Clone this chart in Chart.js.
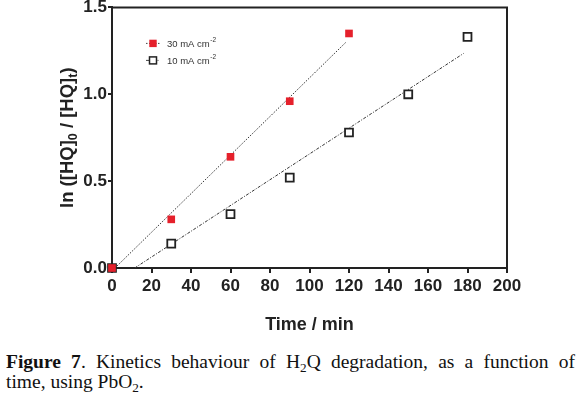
<!DOCTYPE html>
<html><head><meta charset="utf-8">
<script src="https://cdn.jsdelivr.net/npm/chart.js@4/dist/chart.umd.min.js"></script>
<style>
html,body{margin:0;padding:0;background:#fff;width:580px;height:395px;overflow:hidden}
#wrap{position:absolute;left:0;top:0;width:580px;height:336px}
.cap{position:absolute;left:6px;width:569px;font-family:"Liberation Serif","Times New Roman",serif;font-size:19.5px;color:#111;line-height:20px;white-space:nowrap}
.cap sub{font-size:0.68em;vertical-align:-0.28em;line-height:0}
</style></head><body>
<div id="wrap"><canvas id="c" width="580" height="336"></canvas></div>
<div class="cap" style="top:352px;text-align:justify;text-align-last:justify"><b>Figure 7</b>. Kinetics behaviour of H<sub>2</sub>Q degradation, as a function of</div>
<div class="cap" style="top:372px">time, using PbO<sub>2</sub>.</div>
<script>
// ---- data ----
const time30 = [0, 30, 60, 90, 120];
const ln30   = [0, 0.28, 0.64, 0.96, 1.35];
const time10 = [0, 30, 60, 90, 120, 150, 180];
const ln10   = [0, 0.14, 0.31, 0.52, 0.78, 1.00, 1.33];
// fitted trend-line endpoints (as drawn in the figure)
const fit30X = [1.5, 118.5];
const fit30Y = [0, 1.30];
const fit10X = [11.5, 178];
const fit10Y = [0, 1.235];
const xTicks = [0, 20, 40, 60, 80, 100, 120, 140, 160, 180, 200];
const yTicks = [0, 0.5, 1.0, 1.5];
const seriesNames = ['30 mA cm', '10 mA cm'];
const unitSup = '-2';
const xTitle = 'Time / min';
const yTitleParts = [['ln ([HQ]', false], ['0', true], [' / [HQ]', false], ['t', true], [')', false]];

const toPts = (xs, ys) => xs.map((x, i) => ({x: x, y: ys[i]}));
const RED = '#e5202b', DARK = '#222222';
const FONT = '"Liberation Sans", Arial, sans-serif';

const framePlugin = {
  id: 'frame',
  afterDraw(chart) {
    const {ctx, chartArea: a} = chart;
    ctx.save();
    ctx.strokeStyle = DARK; ctx.lineWidth = 2;
    ctx.beginPath();
    ctx.moveTo(a.left, a.top); ctx.lineTo(a.right, a.top); ctx.lineTo(a.right, a.bottom);
    ctx.stroke();
    ctx.restore();
  },
  beforeDatasetsDraw(chart) {
    // y title with subscripts
    const {ctx, chartArea: a} = chart;
    ctx.save();
    const big = 'bold 18.5px ' + FONT, small = 'bold 12.5px ' + FONT;
    let w = 0;
    yTitleParts.forEach(([t, s]) => { ctx.font = s ? small : big; w += ctx.measureText(t).width; });
    ctx.translate(67, (a.top + a.bottom) / 2);
    ctx.rotate(-Math.PI / 2);
    ctx.fillStyle = DARK; ctx.textBaseline = 'alphabetic';
    let x = -w / 2;
    yTitleParts.forEach(([t, s]) => {
      ctx.font = s ? small : big;
      ctx.fillText(t, x, s ? 10 : 6);
      x += ctx.measureText(t).width;
    });
    ctx.restore();
    // legend
    ctx.save();
    const lx = a.left + 41, rows = [a.top + 36, a.top + 53];
    rows.forEach((y, i) => {
      ctx.strokeStyle = '#444'; ctx.lineWidth = 1;
      ctx.setLineDash(i === 0 ? [1.5, 1.5] : [3, 1.5, 1, 1.5]);
      ctx.beginPath(); ctx.moveTo(lx - 7, y); ctx.lineTo(lx + 7, y); ctx.stroke();
      ctx.setLineDash([]);
      if (i === 0) { ctx.fillStyle = RED; ctx.fillRect(lx - 3.7, y - 3.7, 7.4, 7.4); }
      else { ctx.fillStyle = '#fff'; ctx.fillRect(lx - 3.5, y - 3.5, 7, 7);
             ctx.strokeStyle = DARK; ctx.lineWidth = 1.5; ctx.strokeRect(lx - 3.5, y - 3.5, 7, 7); }
      ctx.fillStyle = '#333'; ctx.textBaseline = 'middle';
      ctx.font = '9.5px ' + FONT;
      ctx.fillText(seriesNames[i], lx + 14, y + 1);
      const tw = ctx.measureText(seriesNames[i]).width;
      ctx.font = '6.5px ' + FONT;
      ctx.fillText(unitSup, lx + 14 + tw + 0.5, y - 3);
    });
    ctx.restore();
  }
};

new Chart(document.getElementById('c'), {
  type: 'scatter',
  data: {
    datasets: [
      {label: seriesNames[0], data: toPts(time30, ln30), pointStyle: 'rect', pointRadius: 5.4, pointHoverRadius: 5.4,
       backgroundColor: RED, borderWidth: 0, showLine: false, clip: false},
      {label: seriesNames[1], data: toPts(time10, ln10), pointStyle: 'rect', pointRadius: 5.6, pointHoverRadius: 5.6,
       backgroundColor: '#fff', borderColor: DARK, borderWidth: 1.8, showLine: false, clip: false},
      {label: 'fit30', data: toPts(fit30X, fit30Y), showLine: true, pointRadius: 0, borderColor: '#333', borderWidth: 1,
       borderDash: [1.5, 1.5], fill: false},
      {label: 'fit10', data: toPts(fit10X, fit10Y), showLine: true, pointRadius: 0, borderColor: '#333', borderWidth: 1,
       borderDash: [3, 1.5, 1, 1.5], fill: false}
    ]
  },
  options: {
    responsive: false, animation: false, devicePixelRatio: 1,
    layout: {padding: {left: 0, top: 7, right: 73, bottom: 0}},
    plugins: {legend: {display: false}, tooltip: {enabled: false}},
    scales: {
      x: {
        type: 'linear', min: 0, max: 200,
        afterBuildTicks: s => { s.ticks = xTicks.map(v => ({value: v})); },
        afterFit: s => { s.height = 68; s.paddingRight = 0; s.paddingLeft = 0; },
        ticks: {font: {family: FONT, size: 17, weight: 'bold'}, color: DARK, padding: 3, maxRotation: 0, autoSkip: false},
        grid: {display: true, drawOnChartArea: false, drawTicks: true, tickLength: 5, color: DARK, lineWidth: 2},
        border: {display: true, color: DARK, width: 2},
        title: {display: true, text: xTitle, font: {family: FONT, size: 18, weight: 'bold'}, color: DARK, padding: {top: 10, bottom: 0}}
      },
      y: {
        type: 'linear', min: 0, max: 1.5,
        afterBuildTicks: s => { s.ticks = yTicks.map(v => ({value: v})); },
        afterFit: s => { s.width = 112; s.paddingTop = 0; s.paddingBottom = 0; },
        ticks: {font: {family: FONT, size: 17, weight: 'bold'}, color: DARK, padding: 1,
                callback: v => Number(v).toFixed(1)},
        grid: {display: true, drawOnChartArea: false, drawTicks: true, tickLength: 4, color: DARK, lineWidth: 2},
        border: {display: true, color: DARK, width: 2}
      }
    }
  },
  plugins: [framePlugin]
});
</script>
</body></html>
